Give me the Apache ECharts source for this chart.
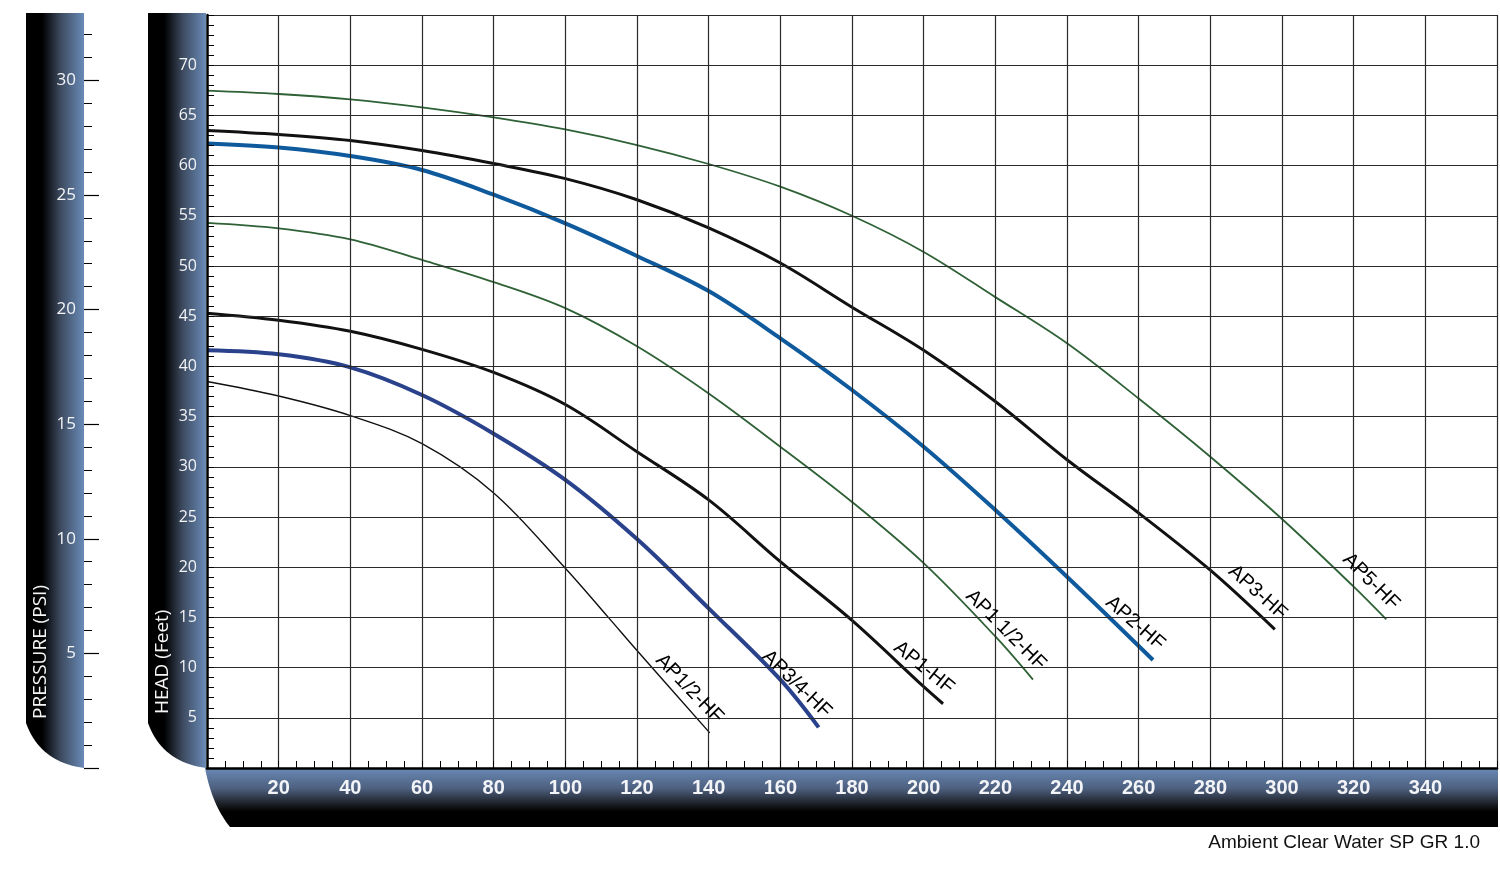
<!DOCTYPE html>
<html><head><meta charset="utf-8">
<script src="https://cdn.jsdelivr.net/npm/echarts@6/dist/echarts.min.js"></script>
<style>html,body{margin:0;padding:0;background:#fff}#c{width:1500px;height:877px}</style>
</head><body><div id="c"></div>
<script>
// ---- tick labels ----
const flowTickLabels = [20,40,60,80,100,120,140,160,180,200,220,240,260,280,300,320,340];
const headTickLabels = [5,10,15,20,25,30,35,40,45,50,55,60,65,70];
const psiTickLabels = [5,10,15,20,25,30];

// ---- series (flow GPM, head feet) ----
const ap12Flow = [0,20,40,60,80,100,112,120,140.3];
const ap12Head = [38.5,37.05,35.1,32.3,27.4,19.9,15.0,11.7,3.5];
const ap34Flow = [0,20,40,60,80,100,120,140,160,170.7];
const ap34Head = [41.6,41.2,39.9,37.15,33.3,28.7,22.8,15.9,8.8,4.05];
const ap1Flow = [0,20,40,60,80,100,120,140,160,180,200,205.4];
const ap1Head = [45.3,44.6,43.5,41.7,39.4,36.2,31.5,26.7,20.55,14.7,8.1,6.4];
const ap112Flow = [0,20,40,60,80,100,120,140,160,180,200,220,230.5];
const ap112Head = [54.3,53.75,52.65,50.6,48.4,45.8,42.0,37.3,32.0,26.5,20.4,13.1,8.8];
const ap2Flow = [0,20,40,60,80,100,120,140,160,180,200,220,240,264];
const ap2Head = [62.2,61.8,60.95,59.56,57.1,54.25,51.0,47.5,42.8,37.65,32.0,25.7,19.05,10.76];
const ap3Flow = [0,20,40,60,80,100,120,140,160,180,200,220,240,260,280,298];
const ap3Head = [63.5,63.1,62.5,61.5,60.2,58.7,56.6,53.8,50.3,45.9,41.6,36.5,30.7,25.4,19.7,13.8];
const ap5Flow = [0,20,40,60,80,100,120,140,160,180,200,220,240,260,280,300,320,329.1];
const ap5Head = [67.46,67.13,66.6,65.8,64.8,63.6,62.05,60.16,57.9,55.0,51.4,46.9,42.3,36.8,31.0,24.8,18.06,14.8];

const seriesDefs = [
  {name:'AP1/2-HF', flow:ap12Flow, head:ap12Head, color:'#111111', width:1.4, rot:46},
  {name:'AP3/4-HF', flow:ap34Flow, head:ap34Head, color:'#2a428c', width:4, rot:44},
  {name:'AP1-HF', flow:ap1Flow, head:ap1Head, color:'#111111', width:3, rot:39},
  {name:'AP1 1/2-HF', flow:ap112Flow, head:ap112Head, color:'#2f6136', width:1.8, rot:45},
  {name:'AP2-HF', flow:ap2Flow, head:ap2Head, color:'#0f5a9d', width:4, rot:41},
  {name:'AP3-HF', flow:ap3Flow, head:ap3Head, color:'#111111', width:3, rot:42},
  {name:'AP5-HF', flow:ap5Flow, head:ap5Head, color:'#2f6136', width:1.8, rot:45}
];

const chart = echarts.init(document.getElementById('c'), null, {renderer:'canvas'});
const GRID = '#2a2a2a';
const axisFont = '"Open Sans","Noto Sans",sans-serif';

// quadratic curve sampler for decorative bar corners
function quad(p0, c, p1, n){
  const pts = [];
  for (let i = 0; i <= n; i++){
    const t = i / n, a = (1-t)*(1-t), b = 2*(1-t)*t, d = t*t;
    pts.push([a*p0[0]+b*c[0]+d*p1[0], a*p0[1]+b*c[1]+d*p1[1]]);
  }
  return pts;
}
function sideBar(x0, x1){
  return [[x0,13],[x1,13],[x1,768]].concat(quad([x1,768],[x0+14,762],[x0,723],20));
}
function sideGrad(){
  return {type:'linear', x:0, y:0, x2:1, y2:0, colorStops:[
    {offset:0,color:'#000'},{offset:0.28,color:'#000'},{offset:0.6,color:'#3d4b60'},{offset:1,color:'#6a8bb8'}]};
}
const bottomGrad = {type:'linear', x:0, y:0, x2:0, y2:1, colorStops:[
  {offset:0,color:'#6a8ab6'},{offset:0.35,color:'#4d5f7e'},{offset:0.62,color:'#1a1d22'},{offset:0.74,color:'#000'},{offset:1,color:'#000'}]};

const decorations = [
  {type:'polygon', z:-10, shape:{points:sideBar(26,84)}, style:{fill:sideGrad()}},
  {type:'polygon', z:-10, shape:{points:sideBar(148,206)}, style:{fill:sideGrad()}},
  {type:'polygon', z:-10, shape:{points:[[205,768],[1498,768],[1498,827]].concat(quad([230,827],[212,805],[205,768],20))}, style:{fill:bottomGrad}},
  {type:'text', z:20, x:41, y:719, rotation:Math.PI/2,
   style:{text:'PRESSURE (PSI)', fill:'#f4f4f4', font:'19px "Open Sans","Noto Sans",sans-serif', align:'left', verticalAlign:'middle'}},
  {type:'text', z:20, x:163, y:714, rotation:Math.PI/2,
   style:{text:'HEAD (Feet)', fill:'#f4f4f4', font:'19px "Open Sans","Noto Sans",sans-serif', align:'left', verticalAlign:'middle'}},
  {type:'text', z:20, x:1480, y:843,
   style:{text:'Ambient Clear Water SP GR 1.0', fill:'#111', font:'19px "Liberation Sans",Arial,sans-serif', align:'right', verticalAlign:'middle'}}
];

const option = {
  animation:false,
  backgroundColor:'#fff',
  grid:{left:207, right:2, top:15, bottom:109, containLabel:false},
  xAxis:{type:'value', min:0, max:360, interval:20, z:5,
    axisLine:{show:true, lineStyle:{color:'#000', width:2.5}},
    axisTick:{show:true, inside:true, length:7, lineStyle:{color:'#000', width:1}},
    minorTick:{show:true, splitNumber:4, length:7, lineStyle:{color:'#000', width:1}},
    splitLine:{show:true, lineStyle:{color:GRID, width:1.2}},
    axisLabel:{margin:10, color:'#f2f4f7', fontSize:20, fontWeight:'bold', fontFamily:'"Liberation Sans",Arial,sans-serif',
      formatter:v => flowTickLabels.includes(v) ? String(v) : ''}
  },
  yAxis:[
    {type:'value', min:0, max:75, interval:5, position:'left', z:5,
     axisLine:{show:true, lineStyle:{color:'#000', width:2.5}},
     axisTick:{show:true, inside:true, length:7, lineStyle:{color:'#000', width:1}},
     minorTick:{show:true, splitNumber:5, length:7, lineStyle:{color:'#000', width:1}},
     splitLine:{show:true, lineStyle:{color:GRID, width:1.2}},
     axisLabel:{margin:10, color:'#f2f4f7', fontSize:16, fontFamily:axisFont,
       formatter:v => headTickLabels.includes(v) ? String(v) : ''}
    },
    {type:'value', min:0, max:32.85, interval:5, position:'left', offset:123, z:5,
     axisLine:{show:false},
     axisTick:{show:true, inside:true, length:15, customValues:[0,5,10,15,20,25,30], lineStyle:{color:'#000', width:1.2}},
     minorTick:{show:true, splitNumber:5, length:8, lineStyle:{color:'#000', width:1}},
     splitLine:{show:false},
     axisLabel:{margin:8, color:'#f2f4f7', fontSize:17, fontFamily:axisFont,
       formatter:v => psiTickLabels.includes(v) ? String(v) : ''}
    }
  ],
  series: seriesDefs.map(s => ({
    name:s.name, type:'line', xAxisIndex:0, yAxisIndex:0, smooth:0.35, showSymbol:false, symbol:'none',
    lineStyle:{color:s.color, width:s.width, cap:'butt'}, z:3,
    data:s.flow.map((f,i) => [f, s.head[i]])
  })),
  graphic: decorations
};
chart.setOption(option);

// curve-end labels positioned through the axis scales
const labels = seriesDefs.map(s => {
  const n = s.flow.length - 1;
  const p = chart.convertToPixel({xAxisIndex:0, yAxisIndex:0}, [s.flow[n], s.head[n]]);
  const th = s.rot * Math.PI / 180;
  const along = -2, perp = 6;
  return {type:'text', z:20,
    x: p[0] + Math.cos(th)*along + Math.sin(th)*perp,
    y: p[1] + Math.sin(th)*along - Math.cos(th)*perp,
    rotation: -th,
    style:{text:s.name, fill:'#000', font:'20px "Liberation Sans",Arial,sans-serif', align:'right', verticalAlign:'bottom'}};
});
chart.setOption({graphic: decorations.concat(labels)}, {replaceMerge:['graphic']});
</script></body></html>
